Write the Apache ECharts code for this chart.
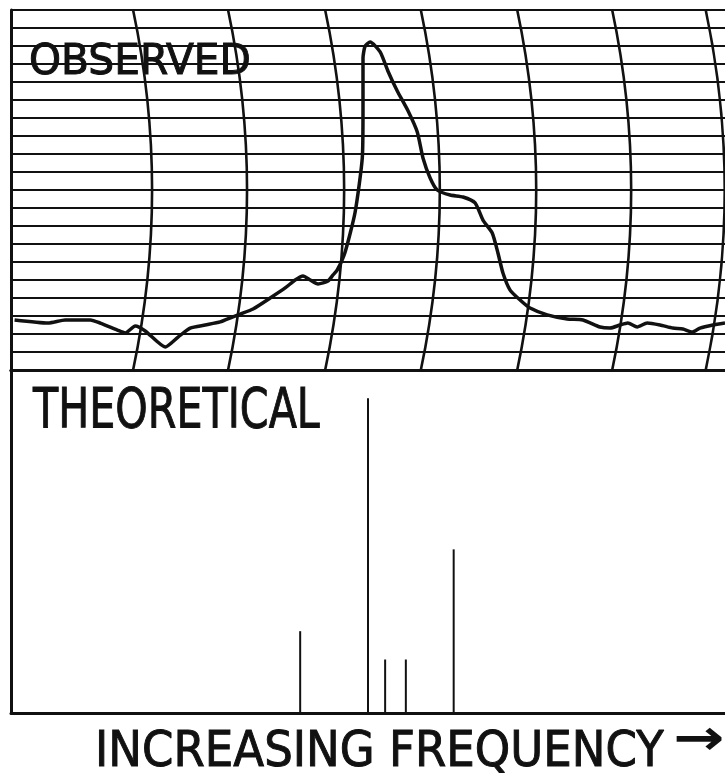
<!DOCTYPE html>
<html>
<head>
<meta charset="utf-8">
<script src="https://cdn.jsdelivr.net/npm/echarts@6.0.0/dist/echarts.min.js"></script>
<style>
  html, body { margin: 0; padding: 0; background: #fff; }
  #main { width: 725px; height: 777px; }
</style>
</head>
<body>
<div id="main"></div>
<script>
// observed recorder trace (frequency in arbitrary 0-100 units, signal in chart divisions 0-20)
var obsFreq = [0.5, 5.2, 7.6, 11.1, 12.5, 14.9, 16.0, 17.4, 18.8, 21.6, 23.4, 25.1, 27.2, 29.3, 31.0,
    32.1, 33.9, 36.3, 38.4, 39.8, 40.9, 41.9, 43.0, 44.4, 45.1, 45.7, 46.8, 48.2, 49.2, 49.3,
    49.3, 49.6, 50.3, 51.7, 52.8, 54.1, 55.6, 56.9, 57.7, 58.7, 59.7, 61.5, 63.3, 65.0, 66.1,
    67.4, 68.2, 68.9, 69.9, 71.3, 72.7, 75.1, 77.9, 80.1, 82.5, 83.9, 85.3, 86.4, 87.7, 89.1,
    90.9, 92.7, 94.1, 95.4, 96.5, 98.3, 100];
var obsSignal = [2.78, 2.61, 2.78, 2.78, 2.61, 2.22, 2.06, 2.44, 2.17, 1.28, 1.83, 2.33, 2.5, 2.67, 2.94,
    3.11, 3.39, 4.0, 4.56, 5.0, 5.22, 5.0, 4.78, 4.94, 5.28, 5.56, 6.56, 8.78, 11.78, 14.56,
    17.33, 18.0, 18.22, 17.67, 16.6, 15.5, 14.4, 13.22, 11.78, 10.67, 10.0, 9.72, 9.61, 9.28, 8.33,
    7.61, 6.5, 5.39, 4.44, 3.89, 3.44, 3.06, 2.83, 2.78, 2.39, 2.33, 2.5, 2.61, 2.39, 2.61,
    2.5, 2.33, 2.28, 2.11, 2.33, 2.5, 2.61];

// theoretical line positions and relative intensities
var stickFreq = [40.5, 50.0, 52.4, 55.3, 62.0];
var stickIntensity = [26, 100, 17, 17, 52];

// chart paper: curved time lines (where they meet the top/bottom edge)
var arcFreq = [17.1, 30.4, 44.0, 57.4, 70.9, 84.2, 97.3];

var INK = '#111';
var ARC_BULGE = 2.66; // sideways sag of the paper arcs at mid height, x units

var myChart = echarts.init(document.getElementById('main'));

function hiddenAxis(extra) {
    return Object.assign({
        type: 'value',
        axisLabel: {show: false},
        axisTick: {show: false},
        splitLine: {show: false},
        axisLine: {show: true, lineStyle: {color: INK, width: 3}}
    }, extra);
}

function label(text, x, y, size, scaleX) {
    return {
        type: 'text', x: x, y: y, scaleX: scaleX,
        style: {
            text: text, fill: INK, stroke: INK, lineWidth: 1,
            font: size + 'px "DejaVu Sans"', textVerticalAlign: 'middle'
        }
    };
}

var option = {
    backgroundColor: '#fff',
    animation: false,
    grid: [
        {left: 11, right: 0, top: 10, height: 360},
        {left: 11, right: 0, top: 370, height: 343}
    ],
    xAxis: [
        hiddenAxis({gridIndex: 0, min: 0, max: 100, position: 'top'}),
        hiddenAxis({gridIndex: 1, min: 0, max: 100, position: 'bottom'}),
        hiddenAxis({gridIndex: 1, min: 0, max: 100, position: 'top'})
    ],
    yAxis: [
        hiddenAxis({
            gridIndex: 0, min: 0, max: 20, interval: 1,
            splitLine: {show: true, lineStyle: {color: INK, width: 2}}
        }),
        hiddenAxis({gridIndex: 1, min: 0, max: 109})
    ],
    graphic: [
        label('OBSERVED', 29, 63, 42, 0.97),
        label('THEORETICAL', 33, 413, 55, 0.75),
        label('INCREASING FREQUENCY', 95, 753, 49, 0.92),
        {
            type: 'text', x: 673, y: 741, scaleX: 1.25,
            style: {text: '→', fill: INK, font: 'bold 49px "DejaVu Sans"', textVerticalAlign: 'middle'}
        }
    ],
    series: [
        {
            // paper arcs
            type: 'custom',
            xAxisIndex: 0,
            yAxisIndex: 0,
            z: 2,
            data: arcFreq.map(function (f) { return [f]; }),
            renderItem: function (params, api) {
                var f = api.value(0);
                var top = api.coord([f, 20]);
                var bot = api.coord([f, 0]);
                var ctl = api.coord([f + 2 * ARC_BULGE, 10]);
                return {
                    type: 'bezierCurve',
                    shape: {x1: top[0], y1: top[1], x2: bot[0], y2: bot[1], cpx1: ctl[0], cpy1: ctl[1]},
                    style: {stroke: INK, lineWidth: 2.6, fill: null}
                };
            }
        },
        {
            name: 'Observed',
            type: 'line',
            xAxisIndex: 0,
            yAxisIndex: 0,
            z: 3,
            showSymbol: false,
            smooth: 0.2,
            lineStyle: {color: INK, width: 3.5},
            data: obsFreq.map(function (f, i) { return [f, obsSignal[i]]; })
        },
        {
            name: 'Theoretical',
            type: 'bar',
            xAxisIndex: 1,
            yAxisIndex: 1,
            barWidth: 2,
            itemStyle: {color: INK},
            data: stickFreq.map(function (f, i) { return [f, stickIntensity[i]]; })
        }
    ]
};

myChart.setOption(option);
</script>
</body>
</html>
